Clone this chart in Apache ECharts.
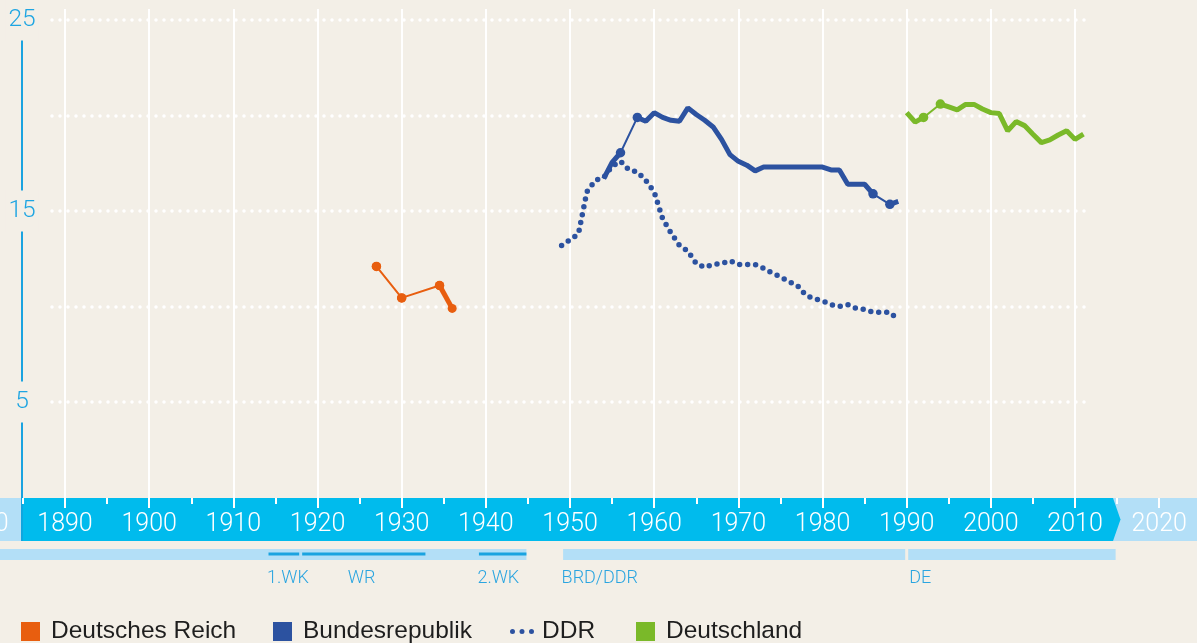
<!DOCTYPE html>
<html>
<head>
<meta charset="utf-8">
<script src="https://cdn.jsdelivr.net/npm/echarts@6/dist/echarts.min.js"></script>
<style>
html,body{margin:0;padding:0;background:#f3efe7;}
#c{width:1197px;height:643px;}
</style>
</head>
<body>
<div id="c"></div>
<script>
// ---------------- data ----------------
const reichYears = [1927, 1930, 1934.5, 1936];
const reichValues = [12.1, 10.45, 11.1, 9.9];

const brdYears = [1954, 1955, 1956, 1958, 1959, 1960, 1961, 1962, 1963, 1964, 1965, 1966, 1967, 1968, 1969,
  1970, 1971, 1972, 1973, 1974, 1975, 1976, 1977, 1978, 1979, 1980, 1981, 1982, 1983, 1984, 1985, 1986, 1988, 1989];
const brdValues = [16.7, 17.55, 18.05, 19.9, 19.7, 20.15, 19.9, 19.75, 19.7, 20.4, 20.05, 19.75, 19.4, 18.75, 17.95,
  17.6, 17.4, 17.1, 17.3, 17.3, 17.3, 17.3, 17.3, 17.3, 17.3, 17.3, 17.15, 17.15, 16.4, 16.4, 16.4, 15.9, 15.35, 15.5];

const ddrYears = [1949, 1950, 1951, 1952, 1953, 1954, 1955, 1956, 1957, 1958, 1959, 1960, 1961, 1962, 1963, 1964,
  1965, 1966, 1967, 1968, 1969, 1970, 1971, 1972, 1973, 1974, 1975, 1976, 1977, 1978, 1979, 1980, 1981, 1982,
  1983, 1984, 1985, 1986, 1987, 1988, 1989];
const ddrValues = [13.2, 13.5, 13.8, 16.0, 16.6, 16.75, 17.35, 17.6, 17.15, 17.05, 16.6, 16.0, 14.6, 13.85, 13.2, 12.9,
  12.25, 12.05, 12.2, 12.25, 12.4, 12.2, 12.2, 12.2, 12.0, 11.75, 11.55, 11.3, 11.1, 10.6, 10.4, 10.3, 10.1, 10.0,
  10.1, 9.9, 9.85, 9.7, 9.7, 9.7, 9.3];

const deYears = [1990, 1991, 1992, 1994, 1995, 1996, 1997, 1998, 1999, 2000, 2001, 2002, 2003, 2004, 2005, 2006,
  2007, 2008, 2009, 2010, 2011];
const deValues = [20.15, 19.65, 19.9, 20.6, 20.45, 20.3, 20.58, 20.58, 20.34, 20.15, 20.1, 19.2, 19.68, 19.47, 19.02,
  18.58, 18.72, 18.98, 19.2, 18.75, 19.02];

const yTickLabels = [5, 15, 25];

const eraStarts = [1871, 1949, 1990];
const eraEnds = [1945, 1990, 2015];
const eventStarts = [1914, 1918, 1939];
const eventEnds = [1918, 1933, 1945];
const periodLabels = ['1.WK', 'WR', '2.WK', 'BRD/DDR', 'DE'];
const periodLabelYears = [1914, 1923.6, 1939, 1949, 1990.3];

// ---------------- style / layout ----------------
const BG = '#f3efe7';
const ORANGE = '#e85e0f';
const BLUE = '#2c52a0';
const GREEN = '#7ab929';
const CYAN = '#1aa3e0';
const LABEL_FONT = 'Roboto, "Liberation Sans", sans-serif';

const X1890 = 65, PPY = 8.417;
const xPx = y => X1890 + (y - 1890) * PPY;
const yearAt = px => 1890 + (px - X1890) / PPY;

function pairs(xs, ys) { return xs.map((x, i) => [x, ys[i]]); }

function buildSeries(name, years, values, color, markThick) {
  const thick = [], thin = [];
  let lastThinEnd = -1;
  for (let i = 0; i < years.length; i++) {
    if (i > 0 && years[i] - years[i - 1] > 1.5) {
      thick.push([(years[i] + years[i - 1]) / 2, '-']);
      if (lastThinEnd !== i - 1) {
        if (thin.length) thin.push([(years[i] + years[i - 1]) / 2, '-']);
        thin.push([years[i - 1], values[i - 1]]);
      }
      thin.push([years[i], values[i]]);
      lastThinEnd = i;
    }
    thick.push([years[i], values[i]]);
  }
  const common = { name, type: 'line', xAxisIndex: 1, yAxisIndex: 1, color, itemStyle: { color },
    symbol: 'circle', connectNulls: false, animation: false };
  return [
    Object.assign({}, common, { data: thick, showSymbol: !!markThick, symbolSize: 9,
      lineStyle: { width: 5, color } }),
    Object.assign({}, common, { data: thin, showSymbol: true, symbolSize: 9.5, z: 3,
      lineStyle: { width: 2, color } })
  ];
}

const series = [].concat(
  buildSeries('Deutsches Reich', reichYears, reichValues, ORANGE, true),
  buildSeries('Bundesrepublik', brdYears, brdValues, BLUE, false),
  [{ name: 'DDR', type: 'line', xAxisIndex: 1, yAxisIndex: 1, data: pairs(ddrYears, ddrValues),
     color: BLUE, itemStyle: { color: BLUE }, showSymbol: false, animation: false,
     lineStyle: { width: 5.5, type: [0, 8], cap: 'round', color: BLUE } }],
  buildSeries('Deutschland', deYears, deValues, GREEN, false)
);

// period bars (below timeline)
series.push({
  type: 'custom', xAxisIndex: 3, yAxisIndex: 3, animation: false, clip: false,
  data: pairs(eraStarts, eraEnds), encode: { x: [0, 1] },
  renderItem: (params, api) => {
    const cs = params.coordSys;
    const x0 = api.coord([api.value(0), 0])[0] + 1.5;
    const x1 = api.coord([api.value(1), 0])[0] - 1.5;
    return { type: 'rect', shape: { x: x0, y: cs.y + 4, width: x1 - x0, height: 11 }, style: { fill: '#b3dff7' } };
  }
});
series.push({
  type: 'custom', xAxisIndex: 3, yAxisIndex: 3, animation: false, clip: false, z: 3,
  data: pairs(eventStarts, eventEnds), encode: { x: [0, 1] },
  renderItem: (params, api) => {
    const cs = params.coordSys;
    const x0 = api.coord([api.value(0), 0])[0] + 1.5;
    const x1 = api.coord([api.value(1), 0])[0] - 1.5;
    return { type: 'rect', shape: { x: x0, y: cs.y + 7.5, width: x1 - x0, height: 3 }, style: { fill: CYAN } };
  }
});
series.push({
  type: 'custom', xAxisIndex: 3, yAxisIndex: 3, animation: false, clip: false, z: 3,
  data: periodLabelYears.map(y => [y, 0]), encode: { x: 0 },
  renderItem: (params, api) => {
    const cs = params.coordSys;
    const x = api.coord([api.value(0), 0])[0];
    return { type: 'text', x: x, y: cs.y + 33.5,
      style: { text: periodLabels[params.dataIndex], fill: '#2aa5e0', font: '300 18px ' + LABEL_FONT,
        align: 'left', verticalAlign: 'middle' } };
  }
});

const bandLeft = xPx(1880);
const legendText = { color: '#1e1e1e', fontSize: 24.5, fontFamily: '"Liberation Sans", Arial, sans-serif' };
const legendBase = { top: 619, padding: 0, itemHeight: 19, itemStyle: { borderWidth: 0 }, selectedMode: false };

const option = {
  backgroundColor: BG,
  animation: false,
  grid: [
    { left: bandLeft, width: PPY * 130, top: 9, height: 489, outerBoundsMode: 'none', containLabel: false },
    { left: 52, width: 1038, top: 20, height: 477.5, outerBoundsMode: 'none', containLabel: false },
    { left: bandLeft, width: PPY * 140, top: 455, height: 43, outerBoundsMode: 'none', containLabel: false },
    { left: bandLeft, width: PPY * 140, top: 545, height: 45, outerBoundsMode: 'none', containLabel: false }
  ],
  xAxis: [
    { gridIndex: 0, type: 'value', min: 1880, max: 2010, interval: 10,
      axisLine: { show: false }, axisTick: { show: false }, axisLabel: { show: false },
      splitLine: { show: true, lineStyle: { color: '#ffffff', width: 2 } } },
    { gridIndex: 1, type: 'value', min: yearAt(52), max: yearAt(1090), show: false, splitLine: { show: false } },
    { gridIndex: 2, type: 'value', position: 'bottom', min: 1880, max: 2020, interval: 10, z: 10,
      axisLine: { show: false },
      axisTick: { show: true, inside: false, length: 10, lineStyle: { color: '#ffffff', width: 2 } },
      minorTick: { show: true, splitNumber: 2, length: 6, lineStyle: { color: '#ffffff', width: 2 } },
      axisLabel: { show: true, inside: false, margin: 14, color: '#ffffff', fontSize: 25,
        fontFamily: LABEL_FONT, fontWeight: 300, formatter: v => String(v) },
      splitLine: { show: false } },
    { gridIndex: 3, type: 'value', min: 1880, max: 2020, show: false, splitLine: { show: false } }
  ],
  yAxis: [
    { gridIndex: 0, type: 'value', min: 0, max: 1, show: false, splitLine: { show: false } },
    { gridIndex: 1, type: 'value', min: 0, max: 25, interval: 5, offset: 30,
      axisLine: { show: true, lineStyle: { color: CYAN, width: 2 } },
      axisTick: { show: false },
      axisLabel: { show: true, margin: 0, align: 'center',
        formatter: v => yTickLabels.indexOf(v) >= 0 ? '{a|' + v + '}' : '',
        rich: { a: { backgroundColor: BG, padding: [8, 3], color: '#1ea5e2', fontSize: 24.5,
          fontFamily: LABEL_FONT, fontWeight: 300 } } },
      splitLine: { show: true, showMinLine: false,
        lineStyle: { color: '#ffffff', width: 3.5, type: [0, 8], cap: 'round' } } },
    { gridIndex: 2, type: 'value', min: 0, max: 1, show: false, splitLine: { show: false } },
    { gridIndex: 3, type: 'value', min: 0, max: 1, show: false, splitLine: { show: false } }
  ],
  legend: [
    Object.assign({}, legendBase, { data: [{ name: 'Deutsches Reich', icon: 'rect' }], left: 21, itemWidth: 19,
      textStyle: Object.assign({ padding: [0, 0, 0, 6] }, legendText) }),
    Object.assign({}, legendBase, { data: [{ name: 'Bundesrepublik', icon: 'rect' }], left: 273, itemWidth: 19,
      textStyle: Object.assign({ padding: [0, 0, 0, 6] }, legendText) }),
    Object.assign({}, legendBase, { data: [{ name: 'DDR', icon: 'path://M0,2.5a2.5,2.5 0 1,0 5,0a2.5,2.5 0 1,0 -5,0M9.5,2.5a2.5,2.5 0 1,0 5,0a2.5,2.5 0 1,0 -5,0M19,2.5a2.5,2.5 0 1,0 5,0a2.5,2.5 0 1,0 -5,0' }],
      left: 510, itemWidth: 24, lineStyle: { width: 0 },
      textStyle: Object.assign({ padding: [0, 0, 0, 3] }, legendText) }),
    Object.assign({}, legendBase, { data: [{ name: 'Deutschland', icon: 'rect' }], left: 636, itemWidth: 19,
      textStyle: Object.assign({ padding: [0, 0, 0, 6] }, legendText) })
  ],
  graphic: [
    { type: 'rect', z: 1, shape: { x: 0, y: 498, width: 1197, height: 43 }, style: { fill: '#b3dff7' } },
    { type: 'polygon', z: 1, shape: { points: [[22, 498], [1113, 498], [1120.5, 519.5], [1113, 541], [22, 541]] },
      style: { fill: '#00bbed' } },
    { type: 'line', z: 2, shape: { x1: 22, y1: 497, x2: 22, y2: 541 }, style: { stroke: '#0fa6df', lineWidth: 2 } }
  ],
  series: series
};

const chart = echarts.init(document.getElementById('c'), null, { renderer: 'canvas' });
chart.setOption(option);
</script>
</body>
</html>
